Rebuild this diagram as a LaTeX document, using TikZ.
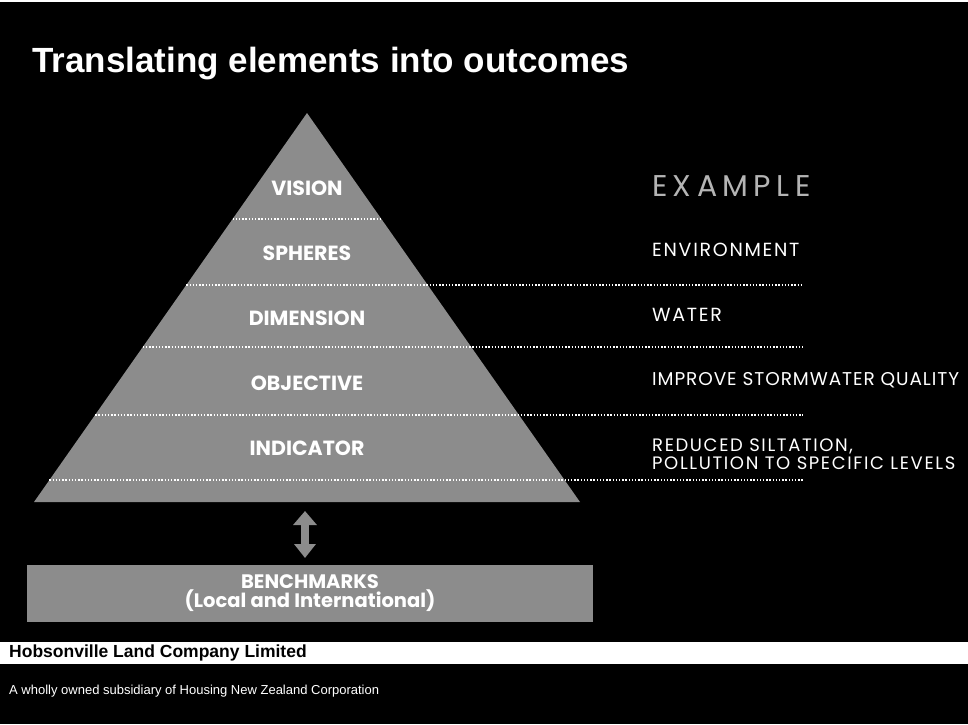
\documentclass[tikz,border=0pt]{standalone}
\usepackage{fontspec}
\setmainfont{Liberation Sans}
\newfontfamily\geo{Poppins}
\newfontfamily\geotrack[LetterSpace=9]{Poppins}
\newfontfamily\geotight[LetterSpace=5]{Poppins}
\newfontfamily\geowide[LetterSpace=18]{Poppins}
\usetikzlibrary{arrows.meta}
\definecolor{slate}{HTML}{8C8C8C}
\definecolor{lightslate}{HTML}{B4B4B4}
\tikzset{
  tier/.style={text=white, font=\geo\bfseries\fontsize{20.5}{22}\selectfont, inner sep=0pt},
  example/.style={text=white, anchor=west, font=\geotrack\fontsize{19}{21}\selectfont, inner sep=0pt},
  divider/.style={white, line width=1.4pt, dash pattern=on 1.4pt off 1.8pt},
}
\begin{document}
\begin{tikzpicture}[x=1pt, y=-1pt]
  \useasboundingbox (0,0) rectangle (968,724);
  \clip (0,0) rectangle (968,724);
  \fill[black] (0,0) rectangle (968,724);
  \fill[white] (0,0) rectangle (968,2);

  % title
  \node[anchor=base west, inner sep=0pt, text=white,
        font=\bfseries\fontsize{35}{40}\selectfont] (title) at (32,72)
        {Translating elements into outcomes};

  % pyramid
  \coordinate (apex) at (307,113);
  \coordinate (bl) at (34,502);
  \coordinate (br) at (580,502);
  \fill[slate] (apex) -- (br) -- (bl) -- cycle;

  % tier dividers
  \draw[divider] (232.6,219) -- (381.4,219);
  \draw[divider] (186.3,285) -- (803,285);
  \draw[divider] (142.8,347) -- (803,347);
  \draw[divider] (95.1,415) -- (803,415);
  \draw[divider] (49.4,480) -- (803,480);

  % tier labels
  \node[tier] (vision) at (307,188) {VISION};
  \node[tier] (spheres) at (307,253) {SPHERES};
  \node[tier] (dimension) at (307,318) {DIMENSION};
  \node[tier] (objective) at (307,383) {OBJECTIVE};
  \node[tier] (indicator) at (307,448) {INDICATOR};

  % example column
  \node[anchor=west, inner sep=0pt, text=lightslate,
        font=\geowide\fontsize{30}{32}\selectfont] (ex) at (652,186) {EXAMPLE};
  \node[example] (env) at (652,250) {ENVIRONMENT};
  \node[example] (water) at (652,315) {WATER};
  \node[example, font=\geotight\fontsize{18.5}{20}\selectfont] (improve) at (652,380)
        {IMPROVE STORMWATER QUALITY};
  \node[example, font=\geotrack\fontsize{18}{18}\selectfont] (reduced) at (652,446.5)
        {REDUCED SILTATION,};
  \node[example, font=\geotrack\fontsize{18}{18}\selectfont] (pollution) at (652,463.5)
        {POLLUTION TO SPECIFIC LEVELS};

  % benchmarks
  \node[fill=slate, minimum width=566pt, minimum height=57pt, inner sep=0pt,
        text=white, align=center, font=\geo\bfseries\fontsize{19.5}{16.5}\selectfont]
        (bench) at (310,593.5) {BENCHMARKS\\(Local and International)};

  \coordinate (uptip) at (305,511);
  \coordinate (downtip) at (305,558);
  \draw[slate, line width=8pt,
        {Triangle[width=23pt,length=14pt]}-{Triangle[width=21pt,length=14pt]}]
        (uptip) -- (downtip);

  % footer
  \fill[white] (0,642) rectangle (968,664);
  \node[anchor=west, inner sep=0pt, text=black,
        font=\bfseries\fontsize{17.5}{18}\selectfont] (company) at (9,653)
        {Hobsonville Land Company Limited};
  \node[anchor=west, inner sep=0pt, text=white,
        font=\fontsize{13}{14}\selectfont] (sub) at (9,691)
        {A wholly owned subsidiary of Housing New Zealand Corporation};
\end{tikzpicture}
\end{document}
